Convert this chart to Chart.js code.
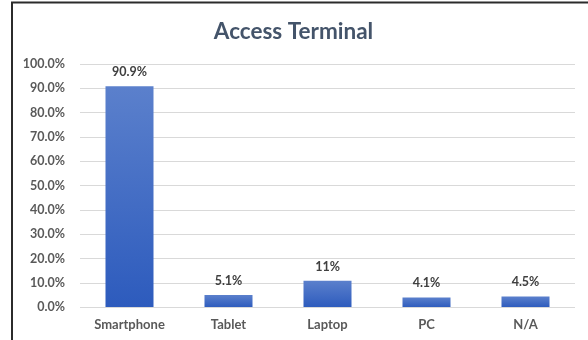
<!DOCTYPE html>
<html>
<head>
<meta charset="utf-8">
<script src="https://cdn.jsdelivr.net/npm/chart.js@4"></script>
<style>
  html, body { margin: 0; padding: 0; background: #fff; }
  #wrap { position: absolute; left: 0; top: 0; width: 588px; height: 340px; }
</style>
</head>
<body>
<div id="wrap"><canvas id="terminalChart" width="588" height="340"></canvas></div>
<script>
// Access terminal shares
const categories = ['Smartphone', 'Tablet', 'Laptop', 'PC', 'N/A'];
const shares = [90.9, 5.1, 11, 4.1, 4.5];
const shareLabels = ['90.9%', '5.1%', '11%', '4.1%', '4.5%'];

const FONT = 'Lato, "Liberation Sans", sans-serif';

// Per-bar vertical gradient, lighter at the top
function barGradient(context) {
    const chart = context.chart;
    const yScale = chart.scales.y;
    if (!chart.chartArea || !yScale || context.raw === undefined) return '#3f6cc6';
    const top = yScale.getPixelForValue(context.raw);
    const base = yScale.getPixelForValue(0);
    if (!isFinite(top) || !isFinite(base) || top === base) return '#3f6cc6';
    const g = chart.ctx.createLinearGradient(0, top, 0, base);
    g.addColorStop(0, '#5b80cc');
    g.addColorStop(1, '#2d5bbd');
    return g;
}

// Frame lines on the left and top edges
const framePlugin = {
    id: 'frame',
    afterDraw(chart) {
        const ctx = chart.ctx;
        ctx.save();
        ctx.strokeStyle = '#2b2b2b';
        ctx.lineWidth = 2;
        ctx.beginPath();
        ctx.moveTo(12, 340);
        ctx.lineTo(12, 2.5);
        ctx.lineTo(588, 2.5);
        ctx.stroke();
        ctx.restore();
    }
};

// Value labels above each bar
const valueLabels = {
    id: 'valueLabels',
    afterDatasetsDraw(chart) {
        const ctx = chart.ctx;
        const meta = chart.getDatasetMeta(0);
        ctx.save();
        ctx.font = 'bold 12.5px ' + FONT;
        ctx.fillStyle = '#404040';
        ctx.textAlign = 'center';
        ctx.textBaseline = 'middle';
        meta.data.forEach((bar, i) => {
            ctx.fillText(shareLabels[i], bar.x, bar.y - 14);
        });
        ctx.restore();
    }
};

new Chart(document.getElementById('terminalChart'), {
    type: 'bar',
    data: {
        labels: categories,
        datasets: [{
            data: shares,
            backgroundColor: barGradient,
            borderWidth: 0,
            categoryPercentage: 1,
            barPercentage: 0.485
        }]
    },
    options: {
        responsive: false,
        animation: false,
        layout: { padding: { left: 12, right: 13, top: 0, bottom: 5 } },
        plugins: {
            legend: { display: false },
            tooltip: { enabled: false },
            title: {
                display: true,
                text: 'Access Terminal',
                color: '#44546a',
                font: { family: FONT, size: 22.5, weight: 'bold', lineHeight: 1.2 },
                padding: { top: 18, bottom: 19 }
            }
        },
        scales: {
            x: {
                grid: { display: false },
                border: { display: false },
                ticks: {
                    color: '#595959',
                    font: { family: FONT, size: 13, weight: 'bold' },
                    padding: 2
                }
            },
            y: {
                min: 0,
                max: 100,
                afterFit(scale) { scale.width = 68; },
                grid: { color: '#d9d9d9', drawTicks: false },
                border: { display: false },
                ticks: {
                    stepSize: 10,
                    color: '#595959',
                    font: { family: FONT, size: 12.5, weight: 'bold' },
                    padding: 15,
                    callback: v => v.toFixed(1) + '%'
                }
            }
        }
    },
    plugins: [framePlugin, valueLabels]
});
</script>
</body>
</html>
